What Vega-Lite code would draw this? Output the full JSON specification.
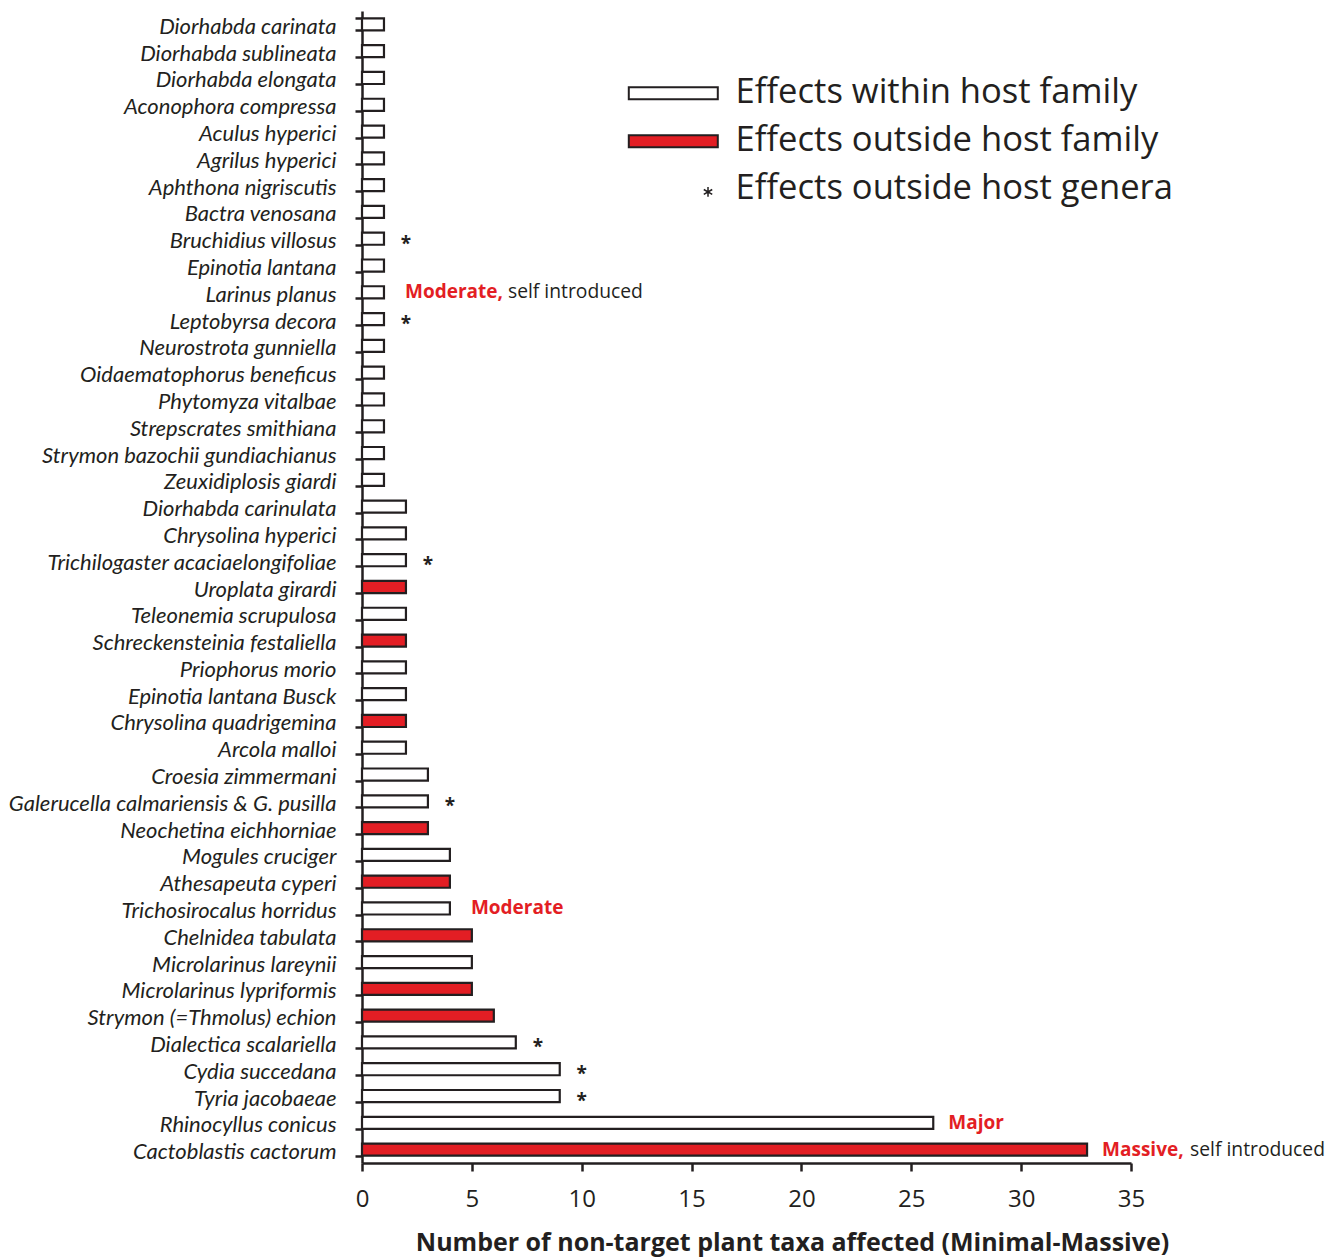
{
  "$schema": "https://vega.github.io/schema/vega-lite/v6.json",
  "autosize": "none",
  "padding": {"left": 362, "top": 11, "right": 207, "bottom": 94},
  "width": 769,
  "height": 1152,
  "background": "white",
  "config": {
    "view": {"stroke": null},
    "text": {"color": "#231f20"}
  },
  "data": {
    "values": [
      {"species": "Diorhabda carinata", "n": 1, "cls": "Effects within host family", "star": false},
      {"species": "Diorhabda sublineata", "n": 1, "cls": "Effects within host family", "star": false},
      {"species": "Diorhabda elongata", "n": 1, "cls": "Effects within host family", "star": false},
      {"species": "Aconophora compressa", "n": 1, "cls": "Effects within host family", "star": false},
      {"species": "Aculus hyperici", "n": 1, "cls": "Effects within host family", "star": false},
      {"species": "Agrilus hyperici", "n": 1, "cls": "Effects within host family", "star": false},
      {"species": "Aphthona nigriscutis", "n": 1, "cls": "Effects within host family", "star": false},
      {"species": "Bactra venosana", "n": 1, "cls": "Effects within host family", "star": false},
      {"species": "Bruchidius villosus", "n": 1, "cls": "Effects within host family", "star": true},
      {"species": "Epinotia lantana", "n": 1, "cls": "Effects within host family", "star": false},
      {"species": "Larinus planus", "n": 1, "cls": "Effects within host family", "star": false, "note": "Moderate,", "note2": "self introduced"},
      {"species": "Leptobyrsa decora", "n": 1, "cls": "Effects within host family", "star": true},
      {"species": "Neurostrota gunniella", "n": 1, "cls": "Effects within host family", "star": false},
      {"species": "Oidaematophorus beneficus", "n": 1, "cls": "Effects within host family", "star": false},
      {"species": "Phytomyza vitalbae", "n": 1, "cls": "Effects within host family", "star": false},
      {"species": "Strepscrates smithiana", "n": 1, "cls": "Effects within host family", "star": false},
      {"species": "Strymon bazochii gundiachianus", "n": 1, "cls": "Effects within host family", "star": false},
      {"species": "Zeuxidiplosis giardi", "n": 1, "cls": "Effects within host family", "star": false},
      {"species": "Diorhabda carinulata", "n": 2, "cls": "Effects within host family", "star": false},
      {"species": "Chrysolina hyperici", "n": 2, "cls": "Effects within host family", "star": false},
      {"species": "Trichilogaster acaciaelongifoliae", "n": 2, "cls": "Effects within host family", "star": true},
      {"species": "Uroplata girardi", "n": 2, "cls": "Effects outside host family", "star": false},
      {"species": "Teleonemia scrupulosa", "n": 2, "cls": "Effects within host family", "star": false},
      {"species": "Schreckensteinia festaliella", "n": 2, "cls": "Effects outside host family", "star": false},
      {"species": "Priophorus morio", "n": 2, "cls": "Effects within host family", "star": false},
      {"species": "Epinotia lantana Busck", "n": 2, "cls": "Effects within host family", "star": false},
      {"species": "Chrysolina quadrigemina", "n": 2, "cls": "Effects outside host family", "star": false},
      {"species": "Arcola malloi", "n": 2, "cls": "Effects within host family", "star": false},
      {"species": "Croesia zimmermani", "n": 3, "cls": "Effects within host family", "star": false},
      {"species": "Galerucella calmariensis & G. pusilla", "n": 3, "cls": "Effects within host family", "star": true},
      {"species": "Neochetina eichhorniae", "n": 3, "cls": "Effects outside host family", "star": false},
      {"species": "Mogules cruciger", "n": 4, "cls": "Effects within host family", "star": false},
      {"species": "Athesapeuta cyperi", "n": 4, "cls": "Effects outside host family", "star": false},
      {"species": "Trichosirocalus horridus", "n": 4, "cls": "Effects within host family", "star": false, "note": "Moderate"},
      {"species": "Chelnidea tabulata", "n": 5, "cls": "Effects outside host family", "star": false},
      {"species": "Microlarinus lareynii", "n": 5, "cls": "Effects within host family", "star": false},
      {"species": "Microlarinus lypriformis", "n": 5, "cls": "Effects outside host family", "star": false},
      {"species": "Strymon (=Thmolus) echion", "n": 6, "cls": "Effects outside host family", "star": false},
      {"species": "Dialectica scalariella", "n": 7, "cls": "Effects within host family", "star": true},
      {"species": "Cydia succedana", "n": 9, "cls": "Effects within host family", "star": true},
      {"species": "Tyria jacobaeae", "n": 9, "cls": "Effects within host family", "star": true},
      {"species": "Rhinocyllus conicus", "n": 26, "cls": "Effects within host family", "star": false, "note": "Major"},
      {"species": "Cactoblastis cactorum", "n": 33, "cls": "Effects outside host family", "star": false, "note": "Massive,", "note2": "self introduced"}
    ]
  },
  "encoding": {
    "y": {
      "field": "species",
      "type": "nominal",
      "sort": null,
      "scale": {"paddingInner": 0.55, "paddingOuter": 0.275},
      "axis": {
        "title": null,
        "tickBand": "extent",
        "tickSize": 7,
        "tickWidth": 2.5,
        "tickColor": "#231f20",
        "domainWidth": 2.5,
        "domainColor": "#231f20",
        "labelFont": "Lato",
        "labelFontStyle": "italic",
        "labelFontSize": 22,
        "labelColor": "#231f20",
        "labelPadding": 19,
        "labelOffset": 2,
        "labelLimit": 500
      }
    },
    "x": {
      "field": "n",
      "type": "quantitative",
      "scale": {"domain": [0, 35], "nice": false},
      "axis": {
        "values": [0, 5, 10, 15, 20, 25, 30, 35],
        "grid": false,
        "tickSize": 8,
        "tickWidth": 2.5,
        "tickColor": "#231f20",
        "domainWidth": 2.5,
        "domainColor": "#231f20",
        "labelFont": "Open Sans",
        "labelFontSize": 24,
        "labelColor": "#231f20",
        "labelPadding": 16,
        "labelFlush": false,
        "title": "Number of non-target plant taxa affected (Minimal-Massive)",
        "titleFont": "Open Sans",
        "titleFontSize": 25,
        "titleFontWeight": "bold",
        "titleColor": "#231f20",
        "titleX": 430,
        "titleY": 87,
        "titleBaseline": "alphabetic"
      }
    }
  },
  "layer": [
    {
      "mark": {"type": "bar", "stroke": "#231f20", "strokeWidth": 2.2},
      "encoding": {
        "color": {
          "field": "cls",
          "type": "nominal",
          "scale": {
            "domain": ["Effects within host family", "Effects outside host family", "Effects outside host genera"],
            "range": ["#ffffff", "#e31e24", "#ffffff"]
          },
          "legend": {
            "title": null,
            "orient": "none",
            "legendX": 294,
            "legendY": 65,
            "symbolType": "M-1,-0.135H1V0.135H-1Z",
            "symbolSize": 7921,
            "symbolStrokeColor": "#231f20",
            "symbolStrokeWidth": 2,
            "labelFont": "Open Sans",
            "labelFontSize": 34.6,
            "labelColor": "#231f20",
            "labelOffset": 45,
            "rowPadding": 13,
            "labelLimit": 700,
            "encode": {
              "symbols": {
                "update": {
                  "shape": {"signal": "datum.value === 'Effects outside host genera' ? 'M0.78,-0.05V0.17M0.685,0.005L0.875,0.115M0.685,0.115L0.875,0.005' : 'M-1,-0.135H1V0.135H-1Z'"},
                  "stroke": {"value": "#231f20"},
                  "strokeWidth": {"signal": "datum.value === 'Effects outside host genera' ? 1.5 : 2"},
                  "opacity": {"value": 1}
                }
              }
            }
          }
        }
      }
    },
    {
      "transform": [{"filter": "datum.star"}],
      "mark": {"type": "text", "text": "*", "dx": 22, "dy": 5, "align": "center", "baseline": "middle", "font": "Open Sans", "fontSize": 19, "fontWeight": "bold"},
      "encoding": {}
    },
    {
      "transform": [{"filter": "datum.note != null && datum.n < 10"}],
      "mark": {"type": "text", "dx": 21, "align": "left", "baseline": "middle", "font": "Open Sans", "fontSize": 19, "fontWeight": "bold", "color": "#e31e24"},
      "encoding": {"text": {"field": "note"}}
    },
    {
      "transform": [{"filter": "datum.note != null && datum.n >= 10"}],
      "mark": {"type": "text", "dx": 15, "align": "left", "baseline": "middle", "font": "Open Sans", "fontSize": 19, "fontWeight": "bold", "color": "#e31e24"},
      "encoding": {"text": {"field": "note"}}
    },
    {
      "transform": [{"filter": "datum.note2 != null && datum.n < 10"}],
      "mark": {"type": "text", "dx": 124, "align": "left", "baseline": "middle", "font": "Open Sans", "fontSize": 19.3},
      "encoding": {"text": {"field": "note2"}}
    },
    {
      "transform": [{"filter": "datum.note2 != null && datum.n >= 10"}],
      "mark": {"type": "text", "dx": 103, "align": "left", "baseline": "middle", "font": "Open Sans", "fontSize": 19.3},
      "encoding": {"text": {"field": "note2"}}
    }
  ]
}
